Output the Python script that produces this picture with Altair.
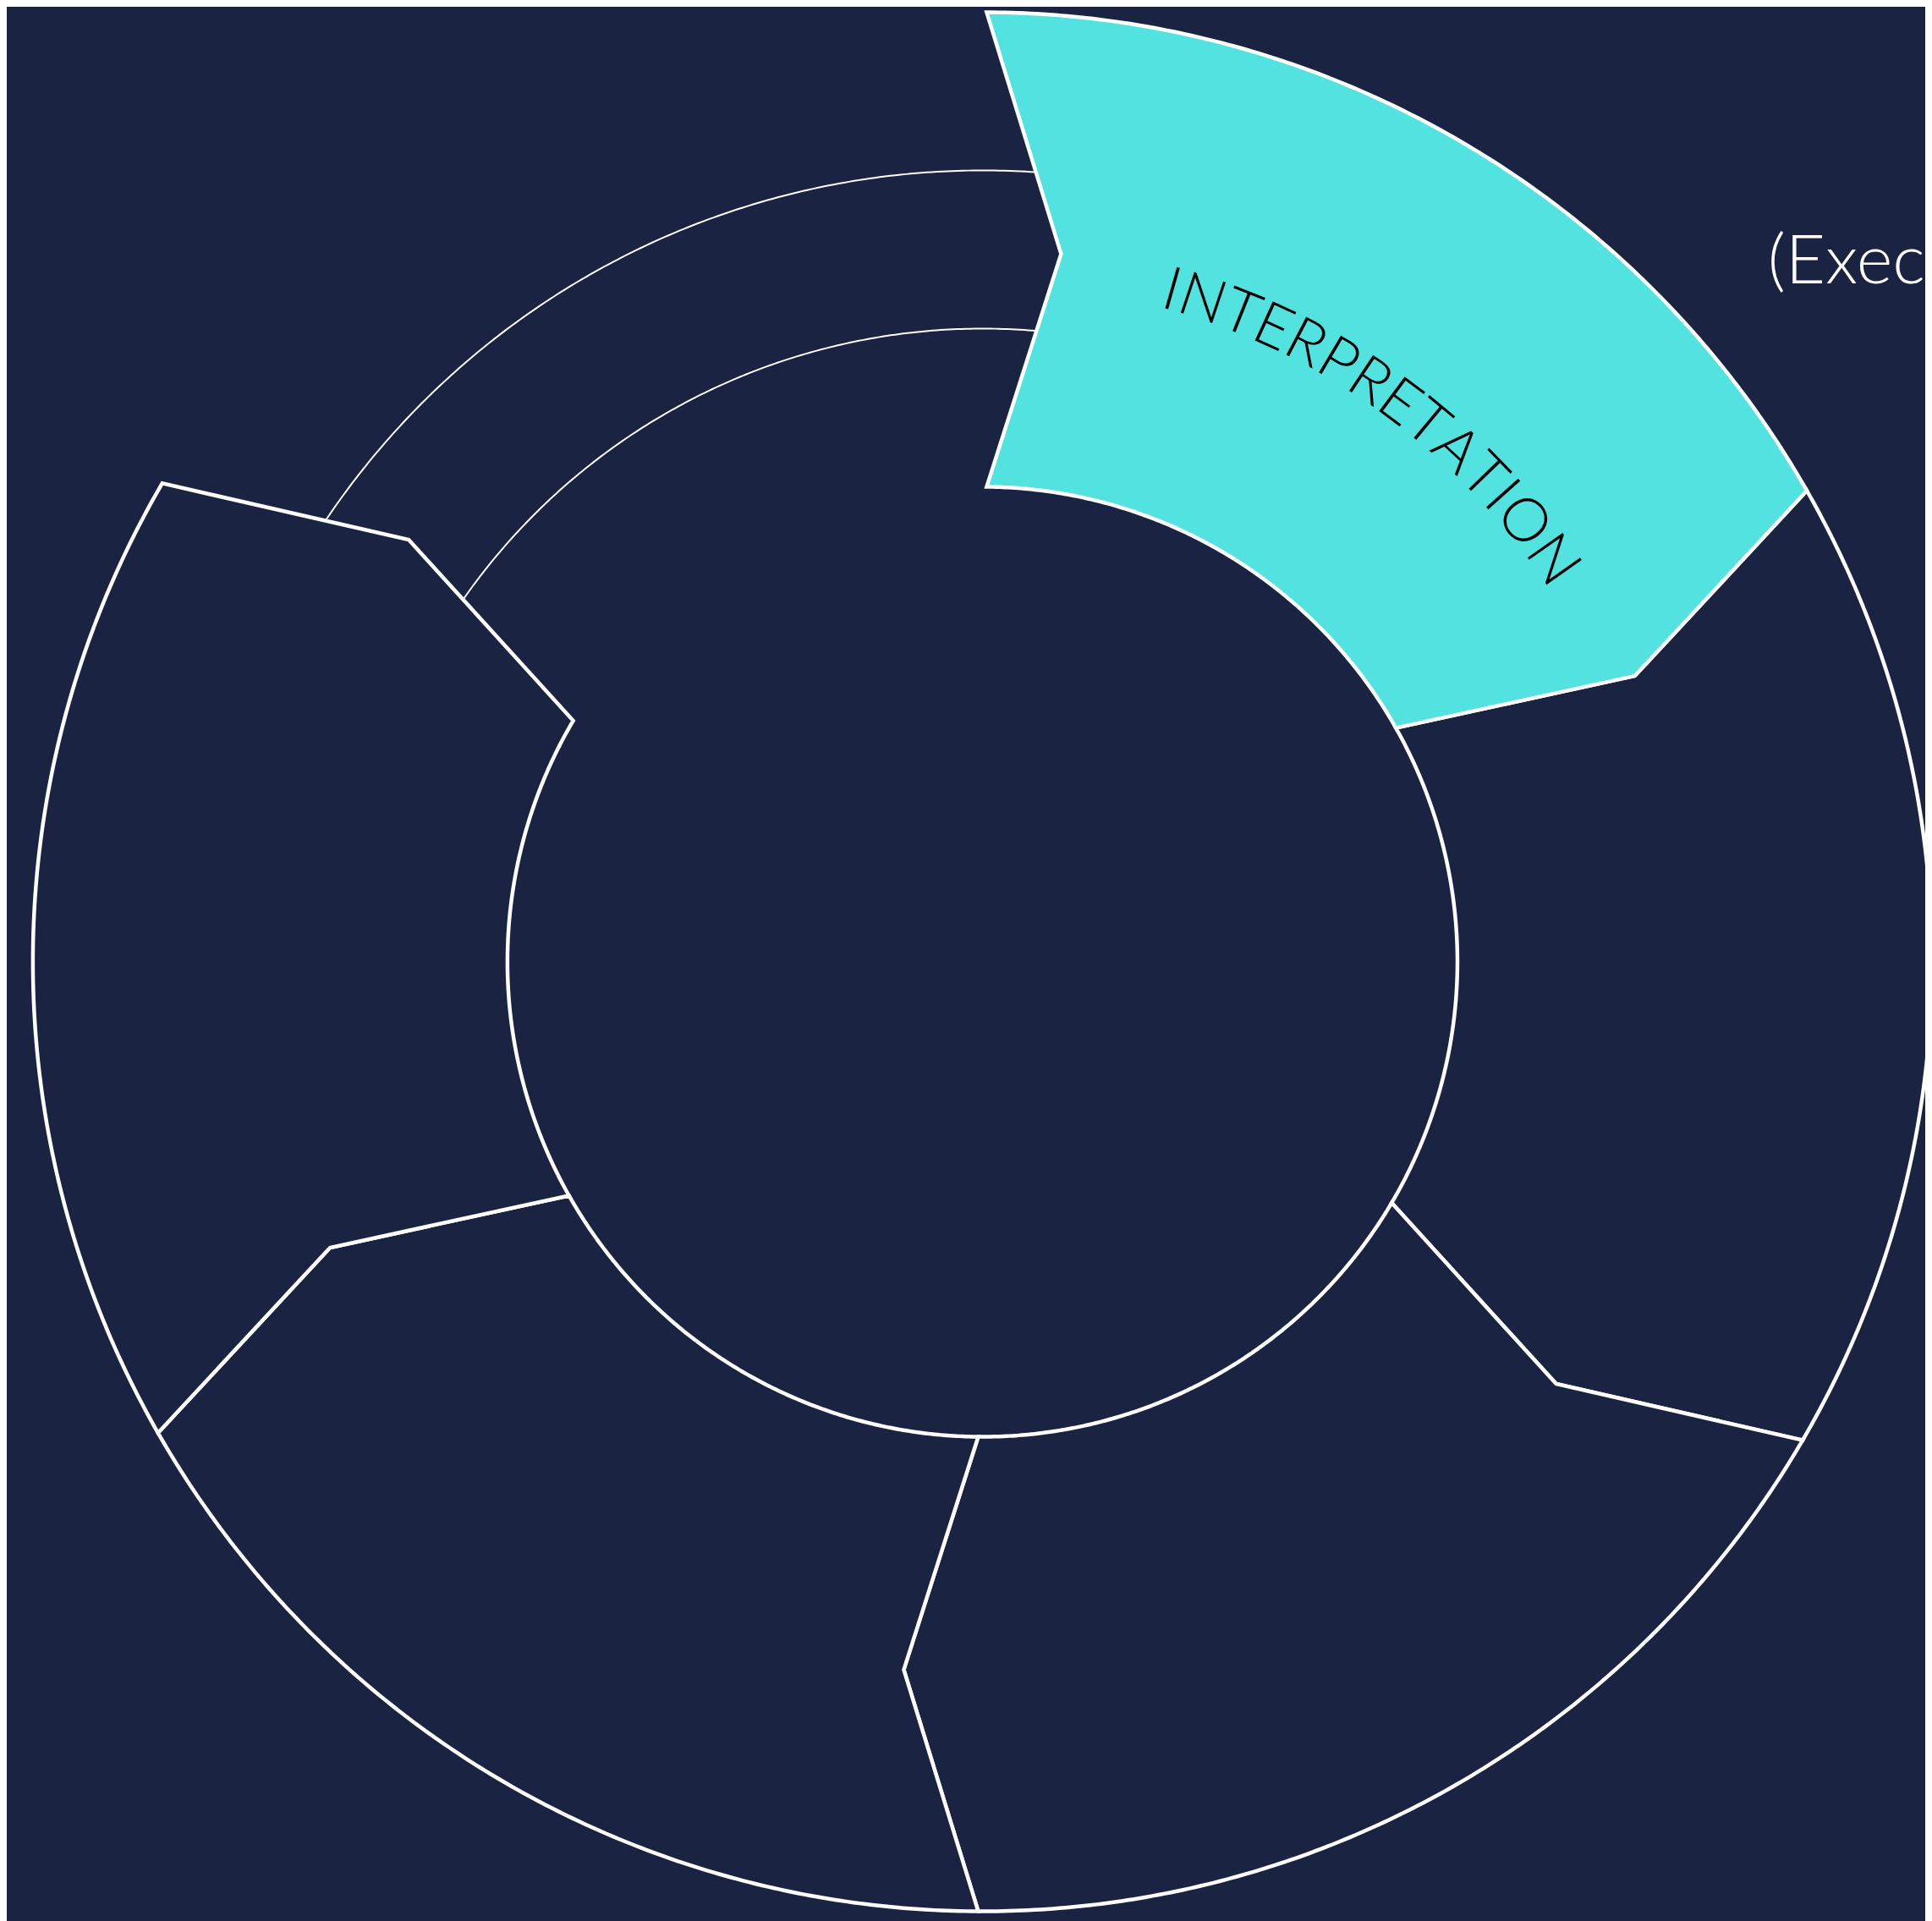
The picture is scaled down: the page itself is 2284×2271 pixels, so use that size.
import numpy as np
import pandas as pd
import altair as alt

# ---------------- data ----------------
segment_ids = ["s1", "s2", "s3", "s4", "s5", "s6"]
segment_start_deg = [0, 60, 120, 180, 240, 300]
segment_span_deg = [60, 60, 60, 60, 60, 60]
segment_highlight = [True, False, False, False, False, False]
segment_outlined = [True, True, True, True, True, False]
segment_bands = [1, 1, 1, 1, 1, 3]
highlight_label = "INTERPRETATION"
side_label = "(Executive)"

# ---------------- geometry / style ----------------
W, H = 2276, 2263
CX, CY = 1157.5, 1129.0
R_IN, R_OUT = 563.5, 1126.5
R_MID = (R_IN + R_OUT) / 2
CHEVRON_DEG = 6.0
EDGE_SHIFT = 5.0
NAVY = "#1A2342"
CYAN = "#52E3E0"
WHITE = "#FFFFFF"


def pt(theta_deg, r, shift=0.0):
    t = np.radians(theta_deg)
    return (CX + r * np.sin(t) + shift * np.cos(t),
            CY - r * np.cos(t) + shift * np.sin(t))


def ang(x, y):
    return np.degrees(np.arctan2(x - CX, CY - y))


def boundary(theta):
    return [pt(theta, R_OUT, EDGE_SHIFT),
            pt(theta + CHEVRON_DEG, R_MID, EDGE_SHIFT),
            pt(theta, R_IN, EDGE_SHIFT)]


def arc_pts(a0, a1, r, n=160):
    return [pt(a, r) for a in np.linspace(a0, a1, n)]


def seg_polygon(t0, t1):
    o0, m0, i0 = boundary(t0)
    o1, m1, i1 = boundary(t1)
    ao0, ao1 = ang(*o0), ang(*o1)
    ai0, ai1 = ang(*i0), ang(*i1)
    ao1 = ao1 if ao1 > ao0 else ao1 + 360
    ai1 = ai1 if ai1 > ai0 else ai1 + 360
    pts = arc_pts(ao0, ao1, R_OUT)
    pts.append(m1)
    pts += arc_pts(ai1, ai0, R_IN)
    pts.append(m0)
    return pts


def circle_hit(theta, r):
    o, m, i = boundary(theta)
    A, B = (i, m) if r <= R_MID else (m, o)
    ax, ay = A[0] - CX, A[1] - CY
    dx, dy = B[0] - A[0], B[1] - A[1]
    a = dx * dx + dy * dy
    b = 2 * (ax * dx + ay * dy)
    c = ax * ax + ay * ay - r * r
    t = (-b + np.sqrt(b * b - 4 * a * c)) / (2 * a)
    return ang(A[0] + t * dx, A[1] + t * dy)


rows = []
arc_rows = []
for sid, s, span, hl, drawn, nb in zip(segment_ids, segment_start_deg, segment_span_deg,
                                       segment_highlight, segment_outlined, segment_bands):
    if drawn:
        for k, (x, y) in enumerate(seg_polygon(s, s + span)):
            rows.append({"seg": sid, "i": k, "x": x, "y": y, "hl": hl})
    for b in range(1, nb):
        r = R_IN + b * (R_OUT - R_IN) / nb
        a0 = circle_hit(s, r)
        a1 = circle_hit(s + span, r)
        if a1 < a0:
            a1 += 360
        for k, (x, y) in enumerate(arc_pts(a0, a1, r)):
            arc_rows.append({"arc": f"{sid}-{b}", "i": k, "x": x, "y": y})

poly = pd.DataFrame(rows)
arcs = pd.DataFrame(arc_rows)

# curved label letters
FONT_SIZE = 72
EM = {"I": 0.27, "N": 0.74, "T": 0.56, "E": 0.55, "R": 0.60,
      "P": 0.58, "A": 0.66, "O": 0.80}
LETTER_SP = 0.5
R_TEXT = 805.0
CENTER_ANGLE = 35.9
widths = [EM.get(ch, 0.6) * FONT_SIZE for ch in highlight_label]
total = sum(widths) + LETTER_SP * (len(widths) - 1)
pos = []
acc = 0.0
for w in widths:
    pos.append(acc + w / 2)
    acc += w + LETTER_SP
letters = []
for ch, p in zip(highlight_label, pos):
    a = CENTER_ANGLE + np.degrees((p - total / 2) / R_TEXT)
    x, y = pt(a, R_TEXT)
    letters.append({"ch": ch, "x": x, "y": y, "rot": a})
letters = pd.DataFrame(letters)

side = pd.DataFrame([{"t": side_label, "x": 2089.0, "y": 323.7}])

xs = alt.Scale(domain=[0, W], nice=False, zero=False)
ys = alt.Scale(domain=[0, H], nice=False, zero=False, reverse=True)
X = alt.X("x:Q", scale=xs, axis=None)
Y = alt.Y("y:Q", scale=ys, axis=None)

navy_layer = alt.Chart(poly).transform_filter("!datum.hl").mark_line(
    interpolate="linear-closed", fill=NAVY, stroke=WHITE, strokeWidth=4.5,
    strokeJoin="miter", clip=True
).encode(x=X, y=Y, detail="seg:N", order="i:Q")

cyan_layer = alt.Chart(poly).transform_filter("datum.hl").mark_line(
    interpolate="linear-closed", fill=CYAN, stroke=WHITE, strokeWidth=4.5,
    strokeJoin="miter", clip=True
).encode(x=X, y=Y, detail="seg:N", order="i:Q")

arc_layer = alt.Chart(arcs).mark_line(
    stroke=WHITE, strokeWidth=2, clip=True
).encode(x=X, y=Y, detail="arc:N", order="i:Q")

letter_layer = alt.Chart(letters).mark_text(
    font="Lato", fontSize=FONT_SIZE, fontWeight=300, color="#000000",
    align="center", baseline="alphabetic"
).encode(x=X, y=Y, text="ch:N", angle=alt.Angle("rot:Q", scale=None))

side_layer = alt.Chart(side).mark_text(
    font="Lato", fontSize=82, fontWeight=300, color=WHITE,
    align="left", baseline="alphabetic", clip=True
).encode(x=X, y=Y, text="t:N")

chart = alt.layer(navy_layer, cyan_layer, arc_layer, letter_layer, side_layer).properties(
    width=W, height=H, background=NAVY, padding=0,
    autosize=alt.AutoSizeParams(type="none")
).configure_view(stroke=None)

chart.save("out.html", embed_options={"renderer": "svg", "actions": False})
